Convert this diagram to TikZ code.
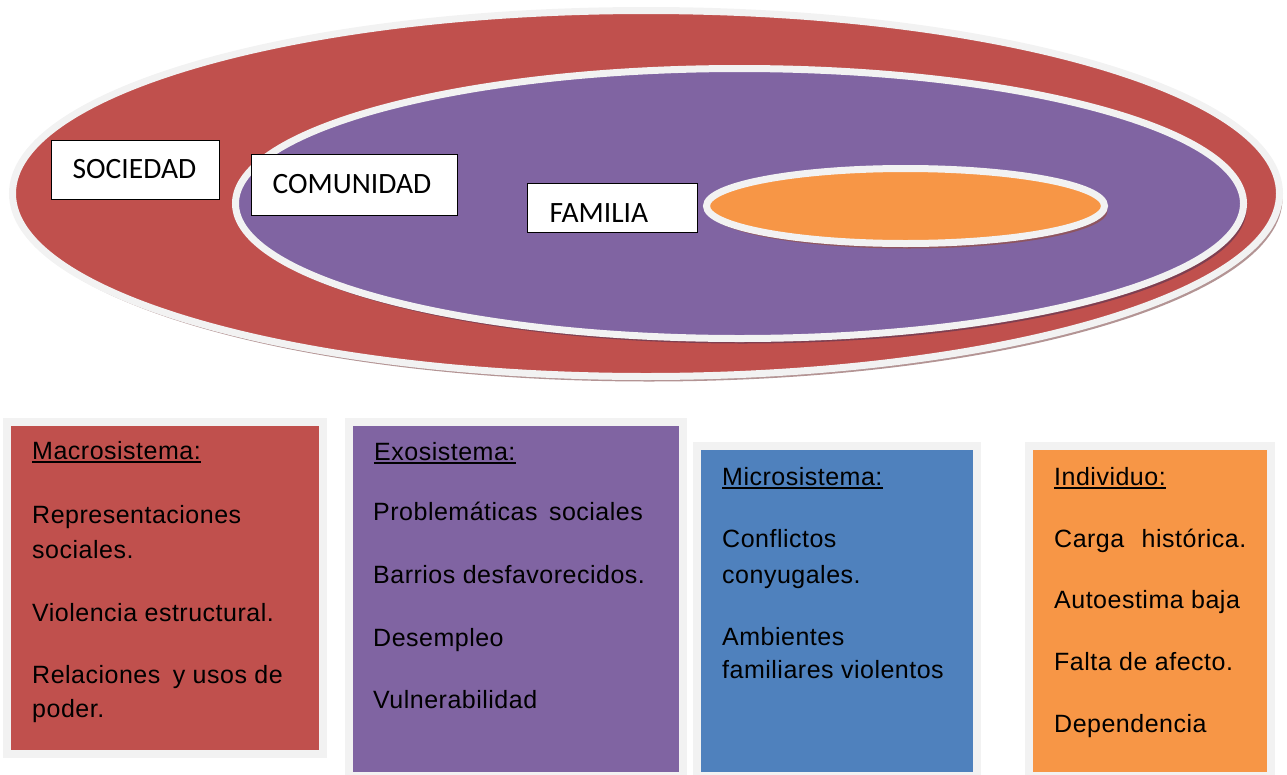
\documentclass[tikz,border=0pt]{standalone}
\usepackage{fontspec}
\setmainfont{Liberation Sans}
\newfontfamily\boxfont{Liberation Sans}[LetterSpace=2]
\newfontfamily\calib{Carlito}
\definecolor{redC}{HTML}{C0504D}
\definecolor{purC}{HTML}{8064A2}
\definecolor{bluC}{HTML}{4F81BD}
\definecolor{oraC}{HTML}{F79646}
\definecolor{rimW}{HTML}{F2F2F2}
\definecolor{shRedE}{HTML}{B39494}
\definecolor{shPurE}{HTML}{7F3F50}
\definecolor{shOraE}{HTML}{8E5560}
\definecolor{shRedB}{HTML}{B39494}
\definecolor{shPurB}{HTML}{A395B5}
\definecolor{shBluB}{HTML}{9AA6B8}
\definecolor{shOraB}{HTML}{D8B49A}
\begin{document}
\begin{tikzpicture}[x=1pt,y=-1pt,
  ring/.style={draw=rimW, line width=7pt},
  panel/.style={draw=rimW, line width=8pt},
  lbl/.style={draw=black, fill=white, line width=1.3pt, anchor=north west,
    inner ysep=0pt, align=left, font=\calib\fontsize{29.5}{34}\selectfont},
  txt/.style={anchor=base west, inner sep=0pt, font=\boxfont\fontsize{25}{30}\selectfont},
  uline/.style={line width=1.5pt}
]
\useasboundingbox (0,0) rectangle (1287,774);

% --- nested ellipses ---
\fill[shRedE] (649,198.5) ellipse [x radius=633.5pt, y radius=183pt];
\filldraw[ring, fill=redC] (646,193.5) ellipse [x radius=633.5pt, y radius=183pt];
\fill[shPurE] (742.5,208.5) ellipse [x radius=504pt, y radius=135pt];
\filldraw[ring, fill=purC] (739.5,203.5) ellipse [x radius=504pt, y radius=135pt];
\fill[shOraE] (908.5,211) ellipse [x radius=199pt, y radius=37.5pt];
\filldraw[ring, fill=oraC] (905.5,206) ellipse [x radius=199pt, y radius=37.5pt];

% --- labels ---
\node[lbl, text width=126pt, inner xsep=21pt, text height=38pt, text depth=21pt] (soc) at (51,140) {SOCIEDAD};
\node[lbl, text width=164pt, inner xsep=21pt, text height=39pt, text depth=22pt] (com) at (251,154) {COMUNIDAD};
\node[lbl, text width=126pt, inner xsep=22pt, text height=39pt, text depth=10pt] (fam) at (527,183) {FAMILIA};

% --- panels ---
\fill[shRedB] (10,425.5) rectangle (326,757.5);
\filldraw[panel, fill=redC] (7,421.5) rectangle (323,753.5);
\fill[shPurB] (352,425.5) rectangle (686,780);
\filldraw[panel, fill=purC] (349,421.5) rectangle (683,776);
\fill[shBluB] (700,449.5) rectangle (980,780);
\filldraw[panel, fill=bluC] (697,445.5) rectangle (977,776);
\fill[shOraB] (1032,449.5) rectangle (1274,780);
\filldraw[panel, fill=oraC] (1029,445.5) rectangle (1271,776);

% Macrosistema
\node[txt] (ma0) at (32,459) {Macrosistema:};
\draw[uline] ([yshift=-3pt]ma0.base west) -- ([yshift=-3pt]ma0.base east);
\node[txt] (ma1) at (32,523) {Representaciones};
\node[txt] (ma2) at (32,558) {sociales.};
\node[txt] (ma3) at (32,621) {Violencia estructural.};
\node[txt] (ma4) at (32,683) {Relaciones\hspace{5pt} y usos de};
\node[txt] (ma5) at (32,717) {poder.};

% Exosistema
\node[txt] (ex0) at (374,460) {Exosistema:};
\draw[uline] ([yshift=-3pt]ex0.base west) -- ([yshift=-3pt]ex0.base east);
\node[txt] (ex1) at (373,520) {Problemáticas\hspace{4pt} sociales};
\node[txt] (ex2) at (373,583) {Barrios desfavorecidos.};
\node[txt] (ex3) at (373,646) {Desempleo};
\node[txt] (ex4) at (373,708) {Vulnerabilidad};

% Microsistema
\node[txt] (mi0) at (722,485) {Microsistema:};
\draw[uline] ([yshift=-3pt]mi0.base west) -- ([yshift=-3pt]mi0.base east);
\node[txt] (mi1) at (722,547) {Conflictos};
\node[txt] (mi2) at (722,583) {conyugales.};
\node[txt] (mi3) at (722,645) {Ambientes};
\node[txt] (mi4) at (722,678) {familiares violentos};

% Individuo
\node[txt] (in0) at (1054,485) {Individuo:};
\draw[uline] ([yshift=-3pt]in0.base west) -- ([yshift=-3pt]in0.base east);
\node[txt] (in1) at (1054,547) {Carga\hspace{10pt} histórica.};
\node[txt] (in2) at (1054,608) {Autoestima baja};
\node[txt] (in3) at (1054,670) {Falta de afecto.};
\node[txt] (in4) at (1054,732) {Dependencia};
\end{tikzpicture}
\end{document}
